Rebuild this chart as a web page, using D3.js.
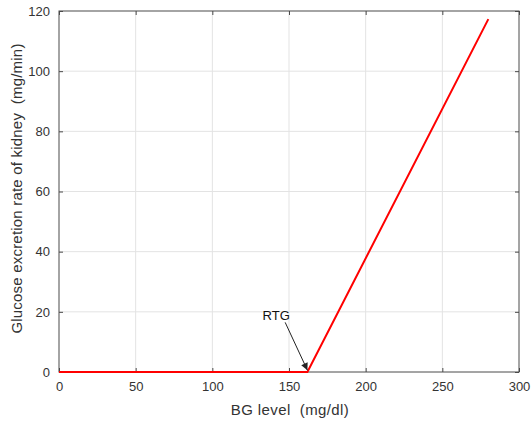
<!DOCTYPE html>
<html>
<head>
<meta charset="utf-8">
<script src="https://cdn.jsdelivr.net/npm/d3@7"></script>
<style>
  body { margin: 0; background: #fff; }
  svg { display: block; font-family: "Liberation Sans", Arial, sans-serif; }
</style>
</head>
<body>
<svg id="chart"></svg>
<script>
// data
const bgLevel = [0, 162, 280];
const excretion = [0, 0, 117.3];
const xTicks = [0, 50, 100, 150, 200, 250, 300];
const yTicks = [0, 20, 40, 60, 80, 100, 120];
const rtgLabel = 'RTG';
const rtgTail = [147.5, 16.5];
const rtgHead = [162, 0.6];

const width = 531, height = 423;
const margin = {top: 11, right: 12, bottom: 51, left: 59};
const innerW = width - margin.left - margin.right;
const innerH = height - margin.top - margin.bottom;

const svg = d3.select('#chart')
  .attr('width', width)
  .attr('height', height);

const x = d3.scaleLinear().domain([0, 300]).range([0, innerW]);
const y = d3.scaleLinear().domain([0, 120]).range([innerH, 0]);

const g = svg.append('g')
  .attr('transform', `translate(${margin.left},${margin.top})`);

// grid
g.append('g').selectAll('line')
  .data(xTicks.slice(1, -1))
  .join('line')
  .attr('x1', d => x(d)).attr('x2', d => x(d))
  .attr('y1', 0).attr('y2', innerH)
  .attr('stroke', '#e3e3e3').attr('stroke-width', 1);

g.append('g').selectAll('line')
  .data(yTicks.slice(1, -1))
  .join('line')
  .attr('y1', d => y(d)).attr('y2', d => y(d))
  .attr('x1', 0).attr('x2', innerW)
  .attr('stroke', '#e3e3e3').attr('stroke-width', 1);

const axisColor = '#4a4a4a';
const tickLen = 4;

// axes with inward ticks on all four sides
function styleAxis(sel) {
  sel.select('.domain').remove();
  sel.selectAll('.tick line').attr('stroke', axisColor);
  sel.selectAll('.tick text')
    .attr('fill', '#333')
    .style('font-size', '13px');
}

g.append('g')
  .attr('transform', `translate(0,${innerH})`)
  .call(d3.axisBottom(x).tickValues(xTicks).tickSizeInner(-tickLen).tickSizeOuter(0).tickPadding(10))
  .call(styleAxis);

g.append('g')
  .call(d3.axisTop(x).tickValues(xTicks).tickSizeInner(-tickLen).tickSizeOuter(0).tickFormat(''))
  .call(styleAxis);

g.append('g')
  .call(d3.axisLeft(y).tickValues(yTicks).tickSizeInner(-tickLen).tickSizeOuter(0).tickPadding(9))
  .call(styleAxis);

g.append('g')
  .attr('transform', `translate(${innerW},0)`)
  .call(d3.axisRight(y).tickValues(yTicks).tickSizeInner(-tickLen).tickSizeOuter(0).tickFormat(''))
  .call(styleAxis);

g.append('rect')
  .attr('x', 0).attr('y', 0)
  .attr('width', innerW).attr('height', innerH)
  .attr('fill', 'none')
  .attr('stroke', axisColor)
  .attr('stroke-width', 1);

// data line
const line = d3.line()
  .x((d, i) => x(bgLevel[i]))
  .y(d => y(d));

g.append('path')
  .datum(excretion)
  .attr('d', line)
  .attr('fill', 'none')
  .attr('stroke', '#ff0000')
  .attr('stroke-width', 2);

// RTG annotation arrow
svg.append('defs').append('marker')
  .attr('id', 'arrowhead')
  .attr('viewBox', '0 0 10 10')
  .attr('refX', 10).attr('refY', 5)
  .attr('markerWidth', 9).attr('markerHeight', 7)
  .attr('markerUnits', 'userSpaceOnUse')
  .attr('orient', 'auto')
  .append('path')
  .attr('d', 'M0,0 L10,5 L0,10 Z')
  .attr('fill', '#222');

g.append('line')
  .attr('x1', x(rtgTail[0])).attr('y1', y(rtgTail[1]))
  .attr('x2', x(rtgHead[0])).attr('y2', y(rtgHead[1]))
  .attr('stroke', '#222')
  .attr('stroke-width', 1)
  .attr('marker-end', 'url(#arrowhead)');

g.append('text')
  .attr('x', x(rtgTail[0]) - 9)
  .attr('y', y(rtgTail[1]) - 2)
  .attr('text-anchor', 'middle')
  .attr('fill', '#111')
  .style('font-size', '13px')
  .text(rtgLabel);

// axis labels
svg.append('text')
  .attr('x', margin.left + innerW / 2 + 1)
  .attr('y', 415)
  .attr('text-anchor', 'middle')
  .attr('fill', '#333')
  .style('font-size', '15px')
  .style('letter-spacing', '0.4px')
  .style('white-space', 'pre')
  .text('BG level  (mg/dl)');

svg.append('text')
  .attr('transform', `translate(22,${margin.top + innerH / 2 - 3}) rotate(-90)`)
  .attr('text-anchor', 'middle')
  .attr('fill', '#333')
  .style('font-size', '15px')
  .style('letter-spacing', '0.2px')
  .style('white-space', 'pre')
  .text('Glucose excretion rate of kidney  (mg/min)');
</script>
</body>
</html>
